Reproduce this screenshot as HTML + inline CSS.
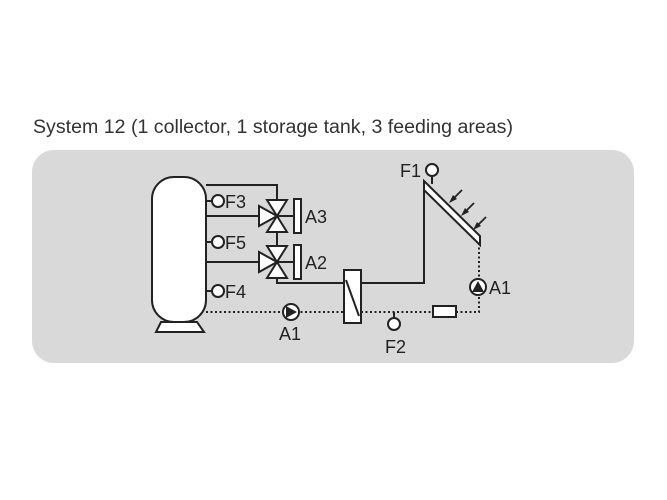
<!DOCTYPE html>
<html><head><meta charset="utf-8"><style>
body{margin:0;background:#fff;width:667px;height:500px;overflow:hidden}
svg{display:block}
text{font-family:"Liberation Sans",sans-serif;fill:#222}
</style></head><body>
<svg width="667" height="500" viewBox="0 0 667 500">
<text x="33" y="133" font-size="19" textLength="480" lengthAdjust="spacingAndGlyphs" style="fill:#333">System 12 (1 collector, 1 storage tank, 3 feeding areas)</text>
<rect x="32" y="150" width="602" height="213" rx="22" fill="#d9d9d9"/>
<g stroke="#222" stroke-width="2" fill="none">
<polyline points="206,185 277,185 277,200"/>
<line x1="206" y1="216" x2="259" y2="216"/>
<line x1="206" y1="262" x2="259" y2="262"/>
<line x1="277" y1="232" x2="277" y2="246"/>
<polyline points="277,278 277,283 344,283"/>
<polyline points="361,283 424,283 424,181"/>
<line x1="277" y1="216" x2="294" y2="216"/>
<line x1="277" y1="262" x2="294" y2="262"/>
<g stroke-dasharray="2,2.5">
<line x1="206" y1="312" x2="344" y2="312"/>
<line x1="361" y1="312" x2="433" y2="312"/>
<polyline points="456,312 479,312 479,244"/>
</g>
<line x1="394" y1="312" x2="394" y2="318"/>
<line x1="432" y1="176" x2="432" y2="184"/>
<line x1="206" y1="201" x2="212" y2="201"/>
<line x1="206" y1="242" x2="212" y2="242"/>
<line x1="206" y1="291" x2="212" y2="291"/>
</g>
<g stroke="#222" stroke-width="2" fill="#fff">
<rect x="152" y="177" width="54" height="145" rx="22"/>
<polygon points="161,322 197,322 204,332 156,332"/>
<polygon points="267,200 287,200 277,216"/>
<polygon points="267,232 287,232 277,216"/>
<polygon points="259,206 259,226 277,216"/>
<polygon points="267,246 287,246 277,262"/>
<polygon points="267,278 287,278 277,262"/>
<polygon points="259,252 259,272 277,262"/>
<rect x="294" y="199" width="7" height="34"/>
<rect x="294" y="245" width="7" height="34"/>
<rect x="344" y="270" width="17" height="53"/>
<line x1="346" y1="280" x2="359" y2="316"/>
<polygon points="424,181 480,236 480,245 424,190"/>
<circle cx="218" cy="201" r="6"/>
<circle cx="218" cy="242" r="6"/>
<circle cx="218" cy="291" r="6"/>
<circle cx="432" cy="170" r="6"/>
<circle cx="394" cy="324" r="6"/>
<circle cx="291" cy="312" r="8"/>
<circle cx="478" cy="287" r="8"/>
<rect x="433" y="306" width="23" height="11"/>
</g>
<polygon points="286,306 297,312 286,318" fill="#222"/>
<polygon points="472,292 478,281 484,292" fill="#222"/>
<g stroke="#222" stroke-width="1.8">
<line x1="462" y1="190" x2="452" y2="200"/>
<line x1="474" y1="203" x2="464" y2="213"/>
<line x1="486" y1="217" x2="476" y2="227"/>
</g>
<g fill="#222">
<polygon points="449,203 457,199 453,195"/>
<polygon points="461,216 469,212 465,208"/>
<polygon points="473,230 481,226 477,222"/>
</g>
<g font-size="18">
<text x="225" y="208">F3</text>
<text x="225" y="249">F5</text>
<text x="225" y="298">F4</text>
<text x="305" y="223">A3</text>
<text x="305" y="269">A2</text>
<text x="279" y="340">A1</text>
<text x="385" y="353">F2</text>
<text x="400" y="177">F1</text>
<text x="489" y="294">A1</text>
</g>
</svg>
</body></html>
